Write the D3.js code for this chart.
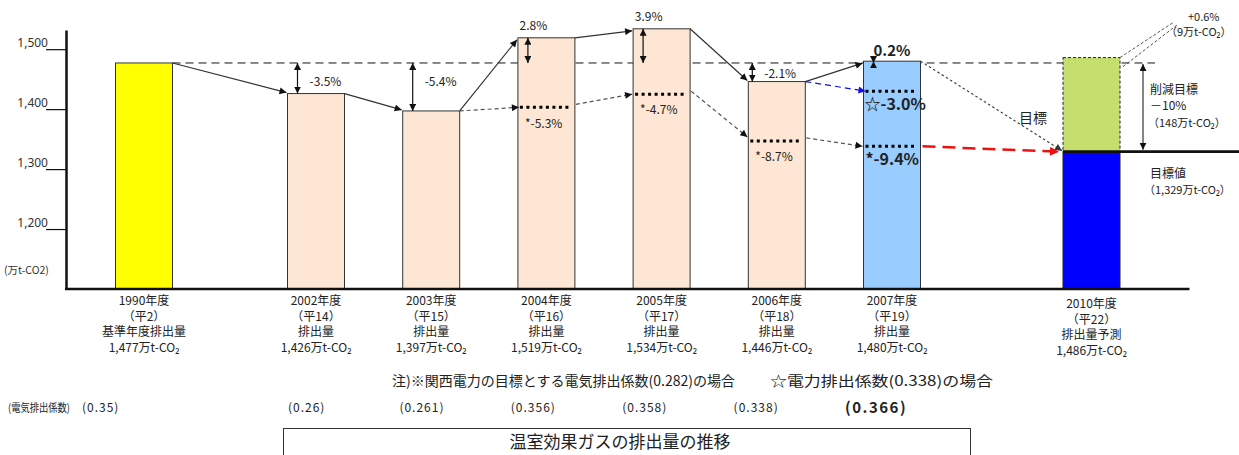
<!DOCTYPE html>
<html><head><meta charset="utf-8">
<script src="https://cdn.jsdelivr.net/npm/d3@7"></script>
<style>
body{margin:0;background:#fff;}
svg{display:block;font-family:"Noto Sans CJK JP","Noto Sans",sans-serif;}
</style></head><body>
<svg id="chart" width="1239" height="455"></svg>
<script>
// ---------- data ----------
const years = [1990, 2002, 2003, 2004, 2005, 2006, 2007, 2010];
const yearLabels = ["1990年度","2002年度","2003年度","2004年度","2005年度","2006年度","2007年度","2010年度"];
const eraLabels = ["（平2）","（平14）","（平15）","（平16）","（平17）","（平18）","（平19）","（平22）"];
const kindLabels = ["基準年度排出量","排出量","排出量","排出量","排出量","排出量","排出量","排出量予測"];
const emissions = [1477, 1426, 1397, 1519, 1534, 1446, 1480, 1486];
const emissionLabels = ["1,477万t-CO₂","1,426万t-CO₂","1,397万t-CO₂","1,519万t-CO₂","1,534万t-CO₂","1,446万t-CO₂","1,480万t-CO₂","1,486万t-CO₂"];
const changeLabels = [null,"-3.5%","-5.4%","2.8%","3.9%","-2.1%","0.2%",null];
const adjYears = [2004, 2005, 2006, 2007];
const adjValues = [1403, 1425, 1347, 1338];
const adjLabels = ["*-5.3%","*-4.7%","*-8.7%","*-9.4%"];
const starYear = 2007;
const starValue = 1430;
const starLabel = "☆-3.0%";
const baseValue = 1477;
const targetValue = 1329;
const coefYears = [2002, 2003, 2004, 2005, 2006, 2007];
const coefLabels = ["(0.26)","(0.261)","(0.356)","(0.358)","(0.338)","(0.366)"];
const baseCoefLabel = "(0.35)";
const yTicks = [1200, 1300, 1400, 1500];

// ---------- layout ----------
const svg = d3.select("#chart");
const x = d3.scaleLinear().domain([1990, 2002, 2007, 2010]).range([144, 316, 892, 1091.5]);
const y = d3.scaleLinear().domain([1100, 1532]).range([289, 30]);
const bw = 57;
const axisX = 66;
const ink = "#222";

const defs = svg.append("defs");
function marker(id, color, len, wid) {
  defs.append("marker").attr("id", id).attr("viewBox", "0 0 10 10")
    .attr("refX", 10).attr("refY", 5).attr("markerWidth", len).attr("markerHeight", wid)
    .attr("markerUnits", "userSpaceOnUse").attr("orient", "auto-start-reverse")
    .append("path").attr("d", "M0,0L10,5L0,10Z").attr("fill", color);
}
marker("ah", "#111", 9, 7);
marker("ahs", "#111", 7, 7);
marker("ahb", "#1010ee", 9, 7);
marker("ahr", "#ee1111", 12, 9);
marker("ahg", "#333", 9, 7);

// baseline dashed (behind bars)
svg.append("line").attr("x1", x(1990) + bw / 2).attr("x2", x(2010) + bw / 2 + 35)
  .attr("y1", y(baseValue)).attr("y2", y(baseValue))
  .attr("stroke", "#111").attr("stroke-width", 1).attr("stroke-dasharray", "8,5");

// bars
const barFill = yr => yr === 1990 ? "#FFFF00" : yr === 2007 ? "#99CCFF" : yr === 2010 ? "#0000FF" : "#FDE6D3";
const bars = years.map((yr, i) => ({ yr, v: emissions[i], i }));
svg.selectAll("rect.bar").data(bars.filter(d => d.yr !== 2010)).join("rect")
  .attr("class", "bar").attr("x", d => x(d.yr) - bw / 2).attr("width", bw)
  .attr("y", d => y(d.v)).attr("height", d => y(1100) - y(d.v))
  .attr("fill", d => barFill(d.yr)).attr("stroke", "#333").attr("stroke-width", 1);
// 2010: target (blue) + projected excess (green dashed)
svg.append("rect").attr("x", x(2010) - bw / 2).attr("width", bw)
  .attr("y", y(emissions[7])).attr("height", y(targetValue) - y(emissions[7]))
  .attr("fill", "#C6DE6E").attr("stroke", "#222").attr("stroke-width", 1).attr("stroke-dasharray", "3,2");
svg.append("rect").attr("x", x(2010) - bw / 2).attr("width", bw)
  .attr("y", y(targetValue)).attr("height", y(1100) - y(targetValue))
  .attr("fill", "#0000FF").attr("stroke", "#222").attr("stroke-width", 1);

// y axis
const yAxis = d3.axisLeft(y).tickValues(yTicks).tickSize(20).tickSizeOuter(0).tickPadding(-2)
  .tickFormat(d3.format(","));
const gy = svg.append("g").attr("transform", `translate(${axisX},0)`).call(yAxis);
gy.select(".domain").attr("stroke", "#111").attr("stroke-width", 2.5);
gy.selectAll(".tick line").attr("stroke", "#111").attr("stroke-width", 1.2);
gy.selectAll(".tick text").attr("dy", "-0.2em").attr("fill", "#333")
  .style("font-family", "'Noto Sans','DejaVu Sans',sans-serif").style("font-size", "12px");
svg.append("text").attr("x", 4).attr("y", 274).attr("fill", "#333").style("font-size", "10.5px").text("(万t-CO2)");

// x axis line
svg.append("line").attr("x1", axisX - 1).attr("x2", x(2010) + 98).attr("y1", y(1100)).attr("y2", y(1100))
  .attr("stroke", "#111").attr("stroke-width", 2.5);

// target line
svg.append("line").attr("x1", x(2010) - bw / 2).attr("x2", 1239).attr("y1", y(targetValue)).attr("y2", y(targetValue))
  .attr("stroke", "#111").attr("stroke-width", 2.8);

// category labels
const catG = svg.append("g").style("font-size", "12px").attr("fill", ink).attr("text-anchor", "middle");
bars.forEach(d => {
  const off = d.yr === 2010 ? 3 : 0;
  [yearLabels, eraLabels, kindLabels, emissionLabels].forEach((arr, k) => {
    catG.append("text").attr("x", x(d.yr)).attr("y", 301 + off + k * 15.5).attr("dy", "0.35em").text(arr[d.i]);
  });
});

// solid arrows between consecutive bars
for (let i = 0; i < 6; i++) {
  const a = bars[i], b = bars[i + 1];
  svg.append("line").attr("x1", x(a.yr) + bw / 2).attr("y1", y(a.v))
    .attr("x2", x(b.yr) - bw / 2 - 1).attr("y2", y(b.v) + (b.v > a.v ? 2 : -1))
    .attr("stroke", "#333").attr("stroke-width", 1.2).attr("marker-end", "url(#ah)");
}

// double arrows (change vs base year) + labels
const labG = svg.append("g").attr("fill", ink).style("font-size", "12px");
bars.forEach(d => {
  const lab = changeLabels[d.i];
  if (!lab) return;
  const ax = x(d.yr) - bw / 2 + (d.yr === 2006 ? 4 : 10);
  svg.append("line").attr("x1", ax).attr("x2", ax).attr("y1", y(baseValue)).attr("y2", y(d.v))
    .attr("stroke", "#111").attr("stroke-width", 1.2)
    .attr("marker-start", "url(#ahs)").attr("marker-end", "url(#ahs)");
  if (d.yr === 2007) {
    labG.append("text").attr("x", x(d.yr) - bw / 2 + 10).attr("y", y(d.v) - 10).attr("dy", "0.35em")
      .style("font-size", "15px").style("font-weight", "bold").text(lab);
  } else if (d.v < baseValue) {
    labG.append("text").attr("x", ax + 12).attr("y", Math.min(y(baseValue) + 19, y(d.v) - 8)).attr("dy", "0.35em").text(lab);
  } else {
    labG.append("text").attr("x", x(d.yr) - 13).attr("y", y(d.v) - 12).attr("dy", "0.35em")
      .attr("text-anchor", "middle").text(lab);
  }
});

// adjusted (electricity coefficient) levels
const adj = adjYears.map((yr, i) => ({ yr, v: adjValues[i], lab: adjLabels[i] }));
const lvl = (yr, v) => svg.append("line").attr("x1", x(yr) - bw / 2 + 2).attr("x2", x(yr) + bw / 2 - 4)
  .attr("y1", y(v)).attr("y2", y(v)).attr("stroke", "#000").attr("stroke-width", 3).attr("stroke-dasharray", "3,3.5");
adj.forEach(d => lvl(d.yr, d.v));
lvl(starYear, starValue);
// dashed arrows for adjusted path
svg.append("line").attr("x1", x(2003) + bw / 2).attr("y1", y(emissions[2]))
  .attr("x2", x(adj[0].yr) - bw / 2 + 1).attr("y2", y(adj[0].v))
  .attr("stroke", "#555").attr("stroke-width", 1.2).attr("stroke-dasharray", "4,3").attr("marker-end", "url(#ah)");
for (let i = 0; i < adj.length - 1; i++) {
  svg.append("line").attr("x1", x(adj[i].yr) + bw / 2 + 1).attr("y1", y(adj[i].v) - 3)
    .attr("x2", x(adj[i + 1].yr) - bw / 2 - 1).attr("y2", y(adj[i + 1].v) + (i === 1 ? -4 : 0))
    .attr("stroke", "#555").attr("stroke-width", 1.2).attr("stroke-dasharray", "4,3").attr("marker-end", "url(#ah)");
}
svg.append("line").attr("x1", x(2006) + bw / 2).attr("y1", y(emissions[5]))
  .attr("x2", x(starYear) - bw / 2 + 2).attr("y2", y(starValue))
  .attr("stroke", "#1010ee").attr("stroke-width", 1.2).attr("stroke-dasharray", "6,4").attr("marker-end", "url(#ahb)");
// adjusted labels
adj.forEach(d => {
  const big = d.yr === 2007;
  labG.append("text").attr("x", x(d.yr) - bw / 2 + (big ? 2 : 7)).attr("y", y(d.v) + (big ? 13 : 16)).attr("dy", "0.35em")
    .style("font-size", big ? "16px" : "12px").style("font-weight", big ? "bold" : "normal").text(d.lab);
});
labG.append("text").attr("x", x(starYear) - bw / 2 + 1).attr("y", y(starValue) + 13).attr("dy", "0.35em")
  .style("font-size", "16px").style("font-weight", "bold").text(starLabel);

// arrows to 2010 target
const tx = x(2010) - bw / 2;
svg.append("line").attr("x1", x(2007) + bw / 2).attr("y1", y(emissions[6]))
  .attr("x2", tx - 1).attr("y2", y(targetValue) - 1)
  .attr("stroke", "#444").attr("stroke-width", 1.2).attr("stroke-dasharray", "2.5,2.5").attr("marker-end", "url(#ahg)");
svg.append("line").attr("x1", x(2007) + bw / 2 + 2).attr("y1", y(adj[3].v))
  .attr("x2", tx - 4).attr("y2", y(targetValue))
  .attr("stroke", "#ee1111").attr("stroke-width", 2.5).attr("stroke-dasharray", "13,7").attr("marker-end", "url(#ahr)");
svg.append("text").attr("x", 1019).attr("y", 118).attr("dy", "0.35em").attr("fill", ink).style("font-size", "14px").text("目標");

// reduction target double arrow
const rx = x(2010) + bw / 2 + 23;
svg.append("line").attr("x1", rx).attr("x2", rx).attr("y1", y(baseValue) + 1).attr("y2", y(targetValue) - 2)
  .attr("stroke", "#333").attr("stroke-width", 1.2)
  .attr("marker-start", "url(#ahs)").attr("marker-end", "url(#ahs)");
const rG = svg.append("g").attr("fill", ink).style("font-size", "12px");
rG.append("text").attr("x", 1150).attr("y", 90).attr("dy", "0.35em").text("削減目標");
rG.append("text").attr("x", 1150).attr("y", 106).attr("dy", "0.35em").text("－10%");
rG.append("text").attr("x", 1148).attr("y", 123).attr("dy", "0.35em").style("font-size", "11px").text("（148万t-CO₂）");
rG.append("text").attr("x", 1150).attr("y", 174).attr("dy", "0.35em").text("目標値");
rG.append("text").attr("x", 1144).attr("y", 190).attr("dy", "0.35em").style("font-size", "11px").text("（1,329万t-CO₂）");
rG.append("text").attr("x", 1188).attr("y", 17).attr("dy", "0.35em").style("font-size", "11px").text("+0.6%");
rG.append("text").attr("x", 1166).attr("y", 32).attr("dy", "0.35em").style("font-size", "11px").text("（9万t-CO₂）");
// leader lines for +0.6%
const gx = x(2010) + bw / 2, gy0 = y(emissions[7]);
svg.append("line").attr("x1", gx).attr("y1", gy0).attr("x2", 1174).attr("y2", 22)
  .attr("stroke", "#555").attr("stroke-width", 1).attr("stroke-dasharray", "3,2");
svg.append("line").attr("x1", gx + 3).attr("y1", gy0 + 9).attr("x2", 1177).attr("y2", 25)
  .attr("stroke", "#555").attr("stroke-width", 1).attr("stroke-dasharray", "3,2");

// notes
const nG = svg.append("g").attr("fill", ink);
nG.append("text").attr("x", 392).attr("y", 381).attr("dy", "0.35em").style("font-size", "14px")
  .attr("textLength", 343).attr("lengthAdjust", "spacingAndGlyphs").text("注)※関西電力の目標とする電気排出係数(0.282)の場合");
nG.append("text").attr("x", 770).attr("y", 381).attr("dy", "0.35em").style("font-size", "14px")
  .attr("textLength", 223).attr("lengthAdjust", "spacingAndGlyphs").text("☆電力排出係数(0.338)の場合");

// coefficient row
const cx = d3.scaleLinear().domain([2002, 2007]).range([288, 845]);
nG.append("text").attr("x", 8).attr("y", 408).attr("dy", "0.35em").style("font-size", "11px")
  .attr("textLength", 62).attr("lengthAdjust", "spacingAndGlyphs").text("(電気排出係数)");
nG.append("text").attr("x", 82).attr("y", 408).attr("dy", "0.35em").style("font-size", "12px")
  .style("letter-spacing", "1px").text(baseCoefLabel);
coefYears.forEach((yr, i) => {
  const big = yr === 2007;
  nG.append("text").attr("x", cx(yr)).attr("y", 408).attr("dy", "0.35em")
    .style("font-size", big ? "15px" : "12px").style("font-weight", big ? "bold" : "normal")
    .style("letter-spacing", big ? "1.5px" : "1px").text(coefLabels[i]);
});

// title box
svg.append("rect").attr("x", 283.5).attr("y", 428.5).attr("width", 687).attr("height", 40)
  .attr("fill", "none").attr("stroke", "#333").attr("stroke-width", 1);
svg.append("text").attr("x", 620).attr("y", 442).attr("dy", "0.35em").attr("text-anchor", "middle")
  .attr("fill", ink).style("font-size", "17px").text("温室効果ガスの排出量の推移");
</script>
</body></html>
